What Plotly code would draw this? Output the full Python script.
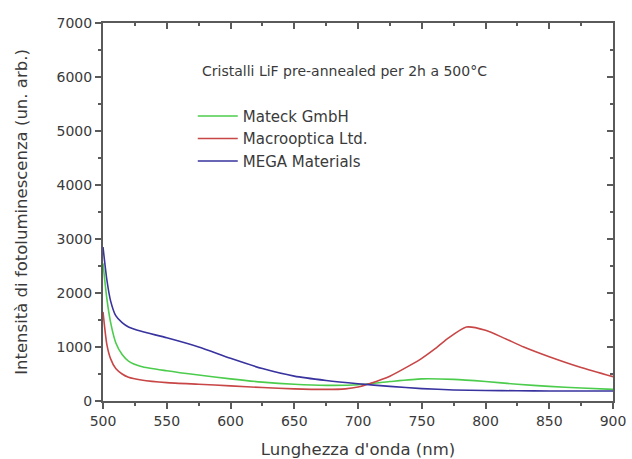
import plotly.graph_objects as go

wl_mateck = [500, 503, 506, 510, 515, 520, 530, 550, 575, 600, 625, 650, 675, 700, 725, 750, 775, 800, 825, 850, 875, 900]
mateck = [2550, 1900, 1450, 1080, 860, 740, 640, 560, 480, 410, 350, 310, 290, 300, 360, 410, 400, 360, 310, 270, 240, 215]

wl_macro = [500, 503, 506, 510, 515, 520, 530, 550, 575, 600, 625, 650, 675, 690, 700, 710, 725, 740, 750, 760, 770, 785, 800, 815, 830, 850, 875, 900]
macro = [1650, 1050, 780, 600, 500, 440, 390, 340, 310, 280, 250, 225, 215, 225, 260, 330, 460, 650, 790, 960, 1150, 1370, 1310, 1160, 1000, 820, 620, 450]

wl_mega = [500, 503, 506, 510, 515, 520, 530, 550, 575, 600, 625, 650, 675, 700, 725, 750, 775, 800, 825, 850, 875, 900]
mega = [2850, 2250, 1850, 1580, 1450, 1370, 1290, 1170, 1000, 790, 600, 460, 380, 320, 270, 230, 205, 195, 190, 185, 185, 185]

x_ticks = [500, 550, 600, 650, 700, 750, 800, 850, 900]
y_ticks = [0, 1000, 2000, 3000, 4000, 5000, 6000, 7000]

font = "DejaVu Sans, Verdana, sans-serif"
txt = "#3a3a3a"
axc = "#5a5a5a"

fig = go.Figure()
fig.add_trace(go.Scatter(x=wl_mateck, y=mateck, mode="lines", name="Mateck GmbH",
                         line=dict(color="#4ccc4c", width=1.6, shape="spline", smoothing=0.6)))
fig.add_trace(go.Scatter(x=wl_macro, y=macro, mode="lines", name="Macrooptica Ltd.",
                         line=dict(color="#c84646", width=1.6, shape="spline", smoothing=0.6)))
fig.add_trace(go.Scatter(x=wl_mega, y=mega, mode="lines", name="MEGA Materials",
                         line=dict(color="#38339e", width=1.6, shape="spline", smoothing=0.6)))

axis_common = dict(showgrid=False, zeroline=False, showline=True, linecolor=axc, linewidth=2,
                   tickcolor=axc, tickwidth=1.5, ticklen=6, automargin=False,
                   tickfont=dict(family=font, size=14, color=txt))

fig.update_layout(
    width=632, height=459,
    margin=dict(l=103, r=19, t=23, b=58),
    paper_bgcolor="white", plot_bgcolor="white",
    font=dict(family=font, color=txt),
    xaxis=dict(range=[500, 900], tickvals=x_ticks, ticks="outside",
               minor=dict(dtick=25, ticks="outside", ticklen=3, tickcolor=axc),
               title=dict(text="Lunghezza d'onda (nm)", font=dict(family=font, size=16.5, color=txt), standoff=20),
               **axis_common),
    yaxis=dict(range=[0, 7000], tickvals=y_ticks, ticks="outside",
               minor=dict(dtick=500, ticks="outside", ticklen=3, tickcolor=axc),
               title=dict(text="Intensità di fotoluminescenza (un. arb.)", font=dict(family=font, size=16.5, color=txt), standoff=25),
               **axis_common),
    xaxis2=dict(overlaying="x", side="top", range=[500, 900], tickvals=x_ticks, ticks="inside",
                showticklabels=False, showline=True, linecolor=axc, linewidth=2, automargin=False,
                tickcolor=axc, tickwidth=1.5, ticklen=6, showgrid=False, zeroline=False,
                minor=dict(dtick=25, ticks="inside", ticklen=3, tickcolor=axc)),
    yaxis2=dict(overlaying="y", side="right", range=[0, 7000], tickvals=y_ticks, ticks="inside",
                showticklabels=False, showline=True, linecolor=axc, linewidth=2, automargin=False,
                tickcolor=axc, tickwidth=1.5, ticklen=6, showgrid=False, zeroline=False,
                minor=dict(dtick=500, ticks="inside", ticklen=3, tickcolor=axc)),
    legend=dict(x=0.176, y=0.797, xanchor="left", yanchor="top", bgcolor="rgba(0,0,0,0)",
                font=dict(family=font, size=15, color=txt), tracegroupgap=0, itemwidth=40),
    showlegend=True,
    annotations=[dict(text="Cristalli LiF pre-annealed per 2h a 500°C", xref="paper", yref="paper",
                      x=0.19, y=(401 - 71) / 378, xanchor="left", yanchor="middle", showarrow=False,
                      font=dict(family=font, size=14, color=txt))],
)
fig.add_trace(go.Scatter(x=[500], y=[0], xaxis="x2", yaxis="y2", mode="markers",
                         marker=dict(opacity=0), showlegend=False, hoverinfo="skip"))

fig.write_html("out.html")
